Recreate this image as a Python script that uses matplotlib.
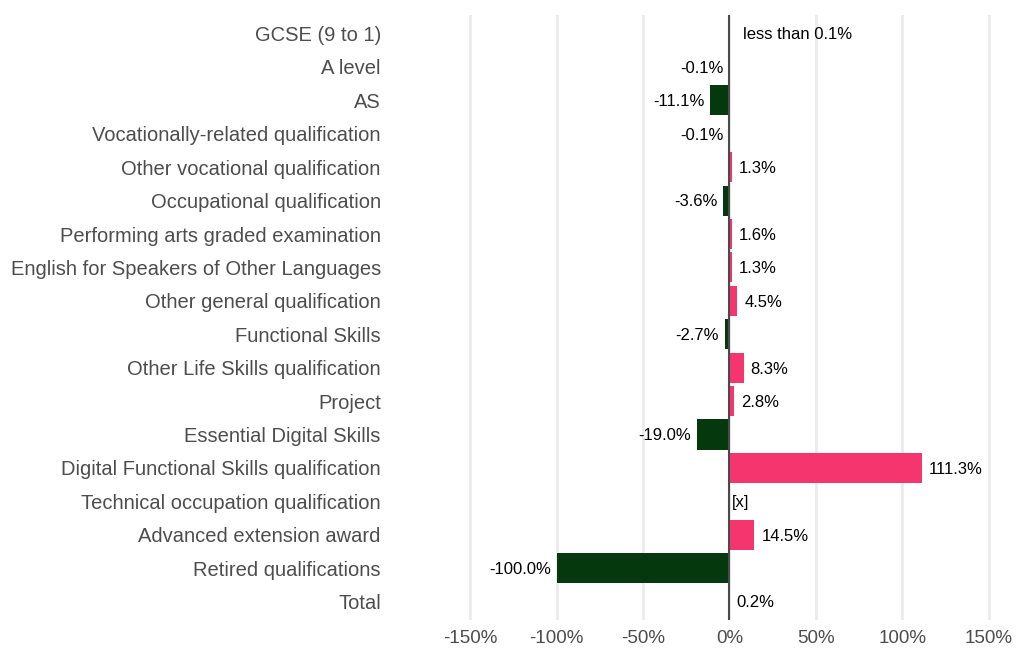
import matplotlib.pyplot as plt
import numpy as np

plt.rcParams['font.family'] = ['Liberation Sans', 'DejaVu Sans']

categories = ["GCSE (9 to 1)", "A level", "AS", "Vocationally-related qualification",
              "Other vocational qualification", "Occupational qualification",
              "Performing arts graded examination", "English for Speakers of Other Languages",
              "Other general qualification", "Functional Skills", "Other Life Skills qualification",
              "Project", "Essential Digital Skills", "Digital Functional Skills qualification",
              "Technical occupation qualification", "Advanced extension award",
              "Retired qualifications", "Total"]
change = [0.05, -0.1, -11.1, -0.1, 1.3, -3.6, 1.6, 1.3, 4.5, -2.7, 8.3, 2.8, -19.0,
          111.3, np.nan, 14.5, -100.0, 0.2]
labels = ["less than 0.1%", "-0.1%", "-11.1%", "-0.1%", "1.3%", "-3.6%", "1.6%", "1.3%",
          "4.5%", "-2.7%", "8.3%", "2.8%", "-19.0%", "111.3%", "[x]", "14.5%", "-100.0%", "0.2%"]
xticks = [-150, -100, -50, 0, 50, 100, 150]

pink = "#f5366e"
green = "#05380d"

fig = plt.figure(figsize=(10.17, 6.49), dpi=100)
ax = fig.add_axes([0.4523, 0.0447, 0.5367, 0.932])

y = np.arange(len(categories))
vals = np.nan_to_num(change)
colors = [pink if v > 0 else green for v in vals]
ax.barh(y, vals, height=0.9, color=colors, zorder=2)
ax.axvline(0, color="#4a4a4a", lw=1.5, zorder=3)

fs = 12
for i, (v, t) in enumerate(zip(change, labels)):
    yy = i + 0.04
    if np.isnan(v):
        ax.text(1.5, yy, t, ha="left", va="center", fontsize=fs, color="black")
    elif t.startswith("less"):
        ax.text(8, yy, t, ha="left", va="center", fontsize=fs, color="black")
    elif v >= 0:
        ax.text(v + 4, yy, t, ha="left", va="center", fontsize=fs, color="black")
    else:
        ax.text(v - 3.5, yy, t, ha="right", va="center", fontsize=fs, color="black")

ax.set_xlim(-156, 160)
ax.set_ylim(len(categories) - 0.45, -0.55)
ax.set_xticks(xticks)
ax.set_xticklabels([f"{t}%" for t in xticks])
ax.set_yticks(y)
ax.set_yticklabels(categories)
ax.tick_params(axis="y", length=0, pad=57, labelsize=14.5, labelcolor="#4d4d4d")
ax.tick_params(axis="x", length=0, pad=7.5, labelsize=13.5, labelcolor="#4d4d4d")
ax.grid(axis="x", color="#ebebeb", lw=2, zorder=0)
ax.set_axisbelow(True)
for s in ax.spines.values():
    s.set_visible(False)

plt.savefig("out.png", dpi=100)
